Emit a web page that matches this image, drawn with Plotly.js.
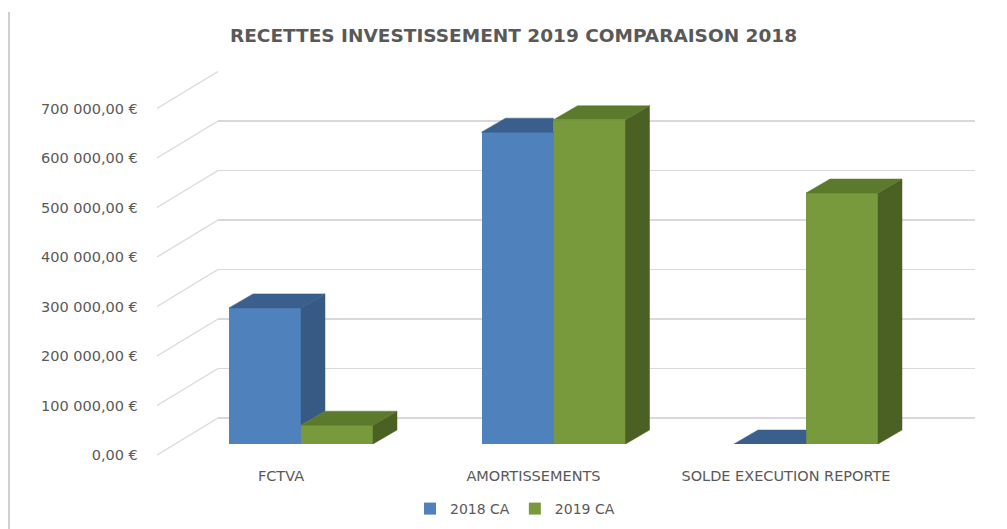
<!DOCTYPE html>
<html>
<head>
<meta charset="utf-8">
<script src="https://cdn.plot.ly/plotly-3.0.1.min.js"></script>
<style>html,body{margin:0;padding:0;background:#fff;}#chart{width:1007px;height:529px;}</style>
</head>
<body>
<div id="chart"></div>
<script>
// ---- data ----
const categories = ['FCTVA', 'AMORTISSEMENTS', 'SOLDE EXECUTION REPORTE'];
const seriesNames = ['2018 CA', '2019 CA'];
const ca2018 = [275000, 630000, 0];
const ca2019 = [38000, 655000, 507000];
const tickVals = [0, 100000, 200000, 300000, 400000, 500000, 600000, 700000];
const tickLabels = ['0,00 €', '100 000,00 €', '200 000,00 €', '300 000,00 €',
                    '400 000,00 €', '500 000,00 €', '600 000,00 €', '700 000,00 €'];

// ---- geometry (pixels) ----
const W = 1007, H = 529;
const S = 49.5 / 100000;            // px per unit
const catStep = 252.5;              // px per category
const firstCat = 301;               // px of first category centre (bar plane)
const barW = 72 / catStep;          // bar width in category units
const depthX = 24 / catStep;        // 3D depth offset x (category units)
const depthY = 14 / S;              // 3D depth offset y (value units)
const fx = p => p / W;
const fy = p => (H - p) / H;
function yDomain(zeroPx, lo, hi) { return [fy(zeroPx - lo * S), fy(zeroPx - hi * S)]; }
function xDomain(centerPx) { return [fx(centerPx - 0.5 * catStep), fx(centerPx + (categories.length - 0.5) * catStep)]; }

const idx = categories.map((_, i) => i);
const fontFam = 'DejaVu Sans, Open Sans, sans-serif';
const txtCol = '#595959';
const gridCol = '#d9d9d9';

const blue = {front: '#4f81bd', top: '#3a5f8c', side: '#375a85'};
const green = {front: '#789a3d', top: '#5b7a2c', side: '#4b6124'};

const traces = [];
// back-wall subplot (x/y) — empty placeholder
traces.push({x: [], y: [], type: 'scatter', xaxis: 'x', yaxis: 'y', showlegend: false, hoverinfo: 'skip'});
// bars front faces (x2/y2)
traces.push({type: 'bar', name: seriesNames[0], x: idx, y: ca2018, width: barW, offset: -barW,
  marker: {color: blue.front, line: {width: 0}}, xaxis: 'x2', yaxis: 'y2'});
traces.push({type: 'bar', name: seriesNames[1], x: idx, y: ca2019, width: barW, offset: 0,
  marker: {color: green.front, line: {width: 0}}, xaxis: 'x2', yaxis: 'y2'});

function poly(pts, color) {
  traces.push({type: 'scatter', mode: 'lines', x: pts.map(p => p[0]).concat([pts[0][0]]),
    y: pts.map(p => p[1]).concat([pts[0][1]]), fill: 'toself', fillcolor: color,
    line: {color: color, width: 0.5}, showlegend: false, hoverinfo: 'skip', xaxis: 'x2', yaxis: 'y2'});
}
// blue (left bar) faces, clipped where the green bar hides them
idx.forEach(i => {
  const v = ca2018[i], g = ca2019[i];
  const x0 = i - barW, x1 = i;
  if (g >= v) {
    poly([[x0, v], [x0 + depthX, v + depthY], [x1, v + depthY], [x1, v]], blue.top);
  } else {
    poly([[x1, g], [x1 + depthX, g + depthY], [x1 + depthX, v + depthY], [x1, v]], blue.side);
    poly([[x0, v], [x0 + depthX, v + depthY], [x1 + depthX, v + depthY], [x1, v]], blue.top);
  }
});
// green (right bar) faces
idx.forEach(i => {
  const g = ca2019[i];
  const x0 = i, x1 = i + barW;
  poly([[x1, 0], [x1 + depthX, depthY], [x1 + depthX, g + depthY], [x1, g]], green.side);
  poly([[x0, g], [x0 + depthX, g + depthY], [x1 + depthX, g + depthY], [x1, g]], green.top);
});
// label subplot placeholder
traces.push({x: [], y: [], type: 'scatter', xaxis: 'x3', yaxis: 'y3', showlegend: false, hoverinfo: 'skip'});

// diagonal lines from labels to back wall
const shapes = tickVals.map(v => ({type: 'line', xref: 'paper', yref: 'paper', layer: 'below',
  x0: fx(157), y0: fy(455 - v * S), x1: fx(218), y1: fy(418 - v * S),
  line: {color: gridCol, width: 1.3}}));
shapes.push({type: 'line', xref: 'paper', yref: 'paper', x0: fx(9), x1: fx(9), y0: fy(12), y1: 0,
  line: {color: '#d0d0d0', width: 2}});

const yLo = -2000, yHi = 702000;
const layout = {
  width: W, height: H, margin: {l: 0, r: 0, t: 0, b: 0},
  paper_bgcolor: '#fff', plot_bgcolor: 'rgba(0,0,0,0)',
  title: {text: '<b>RECETTES INVESTISSEMENT 2019 COMPARAISON 2018</b>', x: fx(513.5), xanchor: 'center',
    xref: 'paper', y: fy(36), yref: 'paper', yanchor: 'middle',
    font: {family: fontFam, size: 18.5, color: txtCol}},
  showlegend: true,
  legend: {orientation: 'h', x: fx(515), xanchor: 'center', y: fy(509), yanchor: 'middle', itemwidth: 30,
    font: {family: fontFam, size: 14, color: txtCol}, traceorder: 'normal'},
  // back wall
  xaxis: {domain: [fx(218), fx(975)], range: [0, 1], visible: false, fixedrange: true},
  yaxis: {domain: yDomain(418, yLo, yHi), range: [yLo, yHi], tickvals: tickVals, showticklabels: false,
    showgrid: true, gridcolor: gridCol, gridwidth: 1.3, zeroline: true, zerolinecolor: gridCol, zerolinewidth: 1.3,
    showline: false, ticks: '', anchor: 'x'},
  // bars
  xaxis2: {domain: xDomain(firstCat), range: [-0.5, categories.length - 0.5], visible: false, anchor: 'y2'},
  yaxis2: {domain: yDomain(444, 0, 750000), range: [0, 750000], visible: false, anchor: 'x2'},
  // front labels
  xaxis3: {domain: xDomain(firstCat - 20), range: [-0.5, categories.length - 0.5], tickvals: idx, ticktext: categories,
    showgrid: false, zeroline: false, showline: false, ticks: 'outside', ticklen: 7, tickcolor: 'rgba(0,0,0,0)',
    tickfont: {family: fontFam, size: 14.5, color: txtCol}, anchor: 'y3'},
  yaxis3: {domain: yDomain(455, yLo, yHi), range: [yLo, yHi], tickvals: tickVals, ticktext: tickLabels,
    showgrid: false, zeroline: false, showline: false, ticks: 'outside', ticklen: 13, tickcolor: 'rgba(0,0,0,0)',
    tickfont: {family: fontFam, size: 14.5, color: txtCol}, anchor: 'x3'},
  shapes: shapes,
  bargap: 0
};
Plotly.newPlot('chart', traces, layout, {displayModeBar: false, staticPlot: true});
</script>
</body>
</html>
